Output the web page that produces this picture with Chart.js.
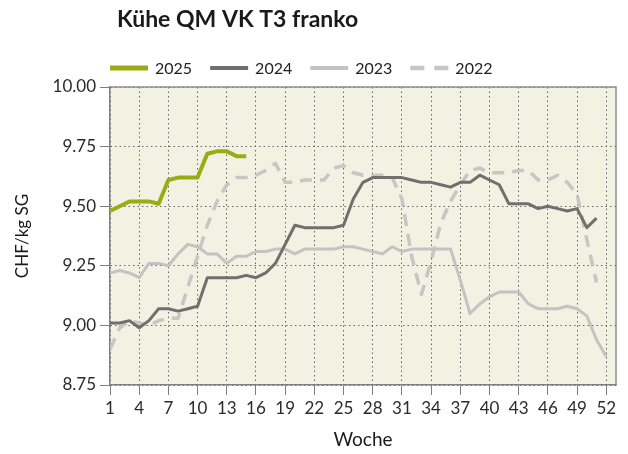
<!DOCTYPE html>
<html>
<head>
<meta charset="utf-8">
<script src="https://cdn.jsdelivr.net/npm/chart.js@4.4.1/dist/chart.umd.min.js"></script>
<style>
html,body{margin:0;padding:0;background:#ffffff;}
#wrap{width:628px;height:454px;position:relative;}
</style>
</head>
<body>
<div id="wrap"><canvas id="c" width="628" height="454"></canvas></div>
<script>
const chartTitle = 'Kühe QM VK T3 franko';
const xTitle = 'Woche';
const yTitle = 'CHF/kg SG';
const weeks = [1,2,3,4,5,6,7,8,9,10,11,12,13,14,15,16,17,18,19,20,21,22,23,24,25,26,27,28,29,30,31,32,33,34,35,36,37,38,39,40,41,42,43,44,45,46,47,48,49,50,51,52];
const xTicks = [1,4,7,10,13,16,19,22,25,28,31,34,37,40,43,46,49,52];
const yTicks = [8.75,9.00,9.25,9.50,9.75,10.00];
const seriesNames = ['2025','2024','2023','2022'];
const v2025 = [9.48,9.50,9.52,9.52,9.52,9.51,9.61,9.62,9.62,9.62,9.72,9.73,9.73,9.71,9.71];
const v2024 = [9.01,9.01,9.02,8.99,9.02,9.07,9.07,9.06,9.07,9.08,
               9.20,9.20,9.20,9.20,9.21,9.20,9.22,9.26,9.34,9.42,
               9.41,9.41,9.41,9.41,9.42,9.53,9.60,9.62,9.62,9.62,
               9.62,9.61,9.60,9.60,9.59,9.58,9.60,9.60,9.63,9.61,
               9.59,9.51,9.51,9.51,9.49,9.50,9.49,9.48,9.49,9.41,9.45];
const v2023 = [9.22,9.23,9.22,9.20,9.26,9.26,9.25,9.30,9.34,9.33,
               9.30,9.30,9.26,9.29,9.29,9.31,9.31,9.32,9.32,9.30,
               9.32,9.32,9.32,9.32,9.33,9.33,9.32,9.31,9.30,9.33,
               9.31,9.32,9.32,9.32,9.32,9.32,9.19,9.05,9.09,9.12,
               9.14,9.14,9.14,9.09,9.07,9.07,9.07,9.08,9.07,9.04,8.94,8.87];
const v2022 = [8.90,8.99,9.02,9.01,9.00,9.02,9.03,9.03,9.16,9.29,
               9.42,9.52,9.59,9.62,9.62,9.63,9.65,9.68,9.60,9.60,
               9.61,9.61,9.61,9.66,9.67,9.64,9.63,9.63,9.63,9.62,
               9.53,9.29,9.13,9.27,9.43,9.52,9.59,9.65,9.66,9.64,
               9.64,9.64,9.65,9.65,9.61,9.61,9.63,9.60,9.55,9.36,9.18];

const pts = vals => vals.map((v, i) => ({x: weeks[i], y: v}));

Chart.defaults.font.family = 'Lato';

const decor = {
  id: 'decor',
  beforeDraw(chart) {
    const {ctx, chartArea: a} = chart;
    ctx.save();
    ctx.fillStyle = '#f2f2e2';
    ctx.fillRect(a.left, a.top, a.right - a.left, a.bottom - a.top);
    ctx.restore();
  },
  afterDraw(chart) {
    const {ctx, chartArea: a} = chart;
    ctx.save();
    // frame
    ctx.strokeStyle = '#8f8f8f';
    ctx.lineWidth = 1.5;
    ctx.beginPath();
    ctx.moveTo(a.left, a.top);
    ctx.lineTo(a.right, a.top);
    ctx.lineTo(a.right, a.bottom);
    ctx.stroke();
    // title
    ctx.fillStyle = '#1a1a1a';
    ctx.font = 'bold 23px Lato';
    ctx.textBaseline = 'middle';
    ctx.textAlign = 'left';
    ctx.fillText(chartTitle, a.left + 7, 20);
    // legend
    ctx.font = '16px Lato';
    let x = a.left;
    const y = 68;
    chart.data.datasets.forEach(ds => {
      ctx.save();
      ctx.strokeStyle = ds.borderColor;
      ctx.lineWidth = ds.borderWidth + 1;
      ctx.setLineDash(ds.borderDash && ds.borderDash.length ? [14, 10] : []);
      ctx.beginPath();
      ctx.moveTo(x, y);
      ctx.lineTo(x + 38, y);
      ctx.stroke();
      ctx.restore();
      x += 38 + 7;
      ctx.fillStyle = '#222';
      ctx.fillText(ds.label, x, y + 1);
      x += ctx.measureText(ds.label).width + 18;
    });
    ctx.restore();
  }
};

new Chart(document.getElementById('c'), {
  type: 'line',
  data: {
    datasets: [
      {label: seriesNames[0], data: pts(v2025), borderColor: '#9aab13', borderWidth: 4, order: 0},
      {label: seriesNames[1], data: pts(v2024), borderColor: '#6f6f6f', borderWidth: 3, order: 1},
      {label: seriesNames[2], data: pts(v2023), borderColor: '#c3c3c3', borderWidth: 3, order: 2},
      {label: seriesNames[3], data: pts(v2022), borderColor: '#c6c6c6', borderWidth: 3.5, borderDash: [12, 8], order: 3}
    ]
  },
  options: {
    responsive: false,
    animation: false,
    devicePixelRatio: 1,
    layout: {padding: {top: 87, right: 12, bottom: 0, left: 8}},
    elements: {
      point: {radius: 0, hoverRadius: 0},
      line: {tension: 0, borderJoinStyle: 'round', borderCapStyle: 'butt', fill: false}
    },
    plugins: {legend: {display: false}, title: {display: false}, tooltip: {enabled: false}},
    scales: {
      x: {
        type: 'linear', min: 1, max: 53,
        afterBuildTicks: s => { s.ticks = xTicks.map(v => ({value: v})); },
        afterFit: s => { s.height = 69; },
        ticks: {autoSkip: false, maxRotation: 0, padding: 3, color: '#2b2b2b', font: {size: 17}, callback: v => String(v)},
        grid: {color: '#666666', lineWidth: 1, tickColor: '#7f7f7f', tickLength: 10, tickWidth: 1, tickBorderDash: []},
        border: {display: true, color: '#7f7f7f', width: 1.5, dash: [1.5, 3]},
        title: {display: true, text: xTitle, color: '#1a1a1a', font: {size: 19}, padding: {top: 4, bottom: 3}}
      },
      y: {
        type: 'linear', min: 8.75, max: 10,
        afterBuildTicks: s => { s.ticks = yTicks.map(v => ({value: v})); },
        afterFit: s => { s.width = 102; },
        ticks: {padding: 4, color: '#2b2b2b', font: {size: 17}, callback: v => Number(v).toFixed(2)},
        grid: {color: '#666666', lineWidth: 1, tickColor: '#7f7f7f', tickLength: 10, tickWidth: 1, tickBorderDash: []},
        border: {display: true, color: '#7f7f7f', width: 1.5, dash: [1.5, 3]},
        title: {display: true, text: yTitle, color: '#1a1a1a', font: {size: 17}, padding: {top: 4, bottom: 0}}
      }
    }
  },
  plugins: [decor]
});
</script>
</body>
</html>
